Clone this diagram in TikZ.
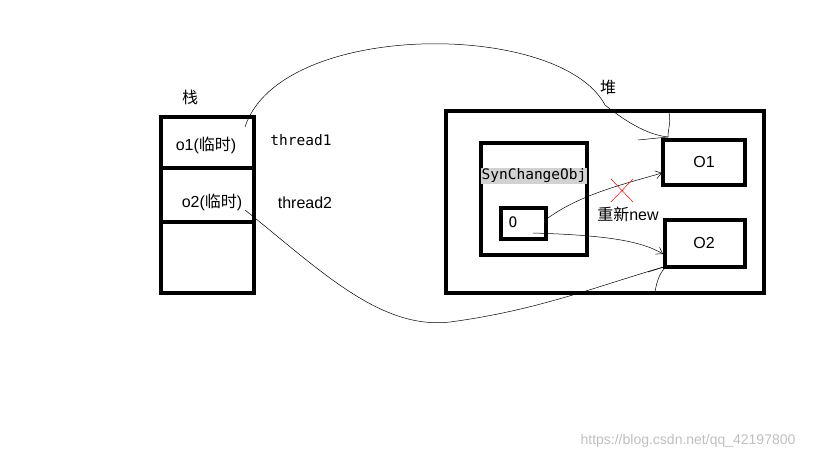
\documentclass[tikz,border=0pt]{standalone}
\usepackage{fontspec}
\setmainfont{Liberation Sans}
\newfontfamily\cjk{Noto Sans CJK SC}
\setmonofont{DejaVu Sans Mono}
\usetikzlibrary{arrows.meta}
\begin{document}
\begin{tikzpicture}[x=1pt,y=-1pt,
  box/.style={draw,line width=3.5pt},
  wire/.style={line width=0.5pt},
  arr/.style={wire,-{Straight Barb[length=6pt,width=8pt]}},
  lbl/.style={font=\fontsize{16}{18}\selectfont},
  mono/.style={font=\ttfamily\fontsize{14.5}{16}\selectfont}]
\useasboundingbox (0,0) rectangle (819,460);
% stack
\node[lbl] (zhan) at (190,97) {\cjk 栈};
\draw[box] (161,117) rectangle (254,293);
\draw[box] (161,168) -- (254,168);
\draw[box] (161,222) -- (254,222);
\node[lbl] (o1t) at (206,145) {o1(\cjk 临时\rmfamily)};
\node[lbl] (o2t) at (212,202) {o2(\cjk 临时\rmfamily)};
\node[mono] (t1) at (301,140) {thread1};
\node[lbl] (t2) at (305,203) {thread2};
% heap
\node[lbl] (dui) at (608,87) {\cjk 堆};
\draw[box] (446,111) rectangle (764,293);
\draw[box] (481,143) rectangle (587,255);
\node[fill=gray!35,inner sep=1pt,mono] (sco) at (534,176) {SynChangeObj};
\draw[box] (501,208) rectangle (546,239);
\node[mono] (o) at (513,222) {O};
\draw[box] (663,140) rectangle (745,185);
\node[lbl] (O1) at (704,162) {O1};
\draw[box] (665,220) rectangle (745,267);
\node[lbl] (O2) at (704,243) {O2};
\coordinate (a1) at (245,127);
\coordinate (a2) at (245,210);
\coordinate (ob1) at (548,218);
\coordinate (ob2) at (533,233);
\coordinate (in1) at (668,137);
\coordinate (in1b) at (662,173);
\coordinate (in2) at (663,254);
\coordinate (in2b) at (667,266);
% curves
\draw[wire] (a1) .. controls (280,20) and (560,20) .. (605,105) .. controls (630,125) and (650,135) .. (in1);
\draw[wire] (638,140) -- (in1) .. controls (668,128) and (672,120) .. (668,110);
\draw[wire] (a2) .. controls (320,270) and (380,330) .. (450,322) .. controls (540,310) and (600,285) .. (in2b);
\draw[wire] (655,292) .. controls (657,280) and (660,272) .. (in2b) -- (648,272);
\draw[arr] (ob1) .. controls (580,195) and (620,185) .. (in1b);
\draw[arr] (ob2) .. controls (600,235) and (640,240) .. (in2);
\draw[red,wire] (611,179) -- (633,202) (633,179) -- (611,202);
\node[lbl] (new) at (628,214) {\cjk 重新\rmfamily new};
\node[text=gray!50,font=\fontsize{14}{16}\selectfont] (wm) at (688,441) {https://blog.csdn.net/qq\_42197800};
\end{tikzpicture}
\end{document}
